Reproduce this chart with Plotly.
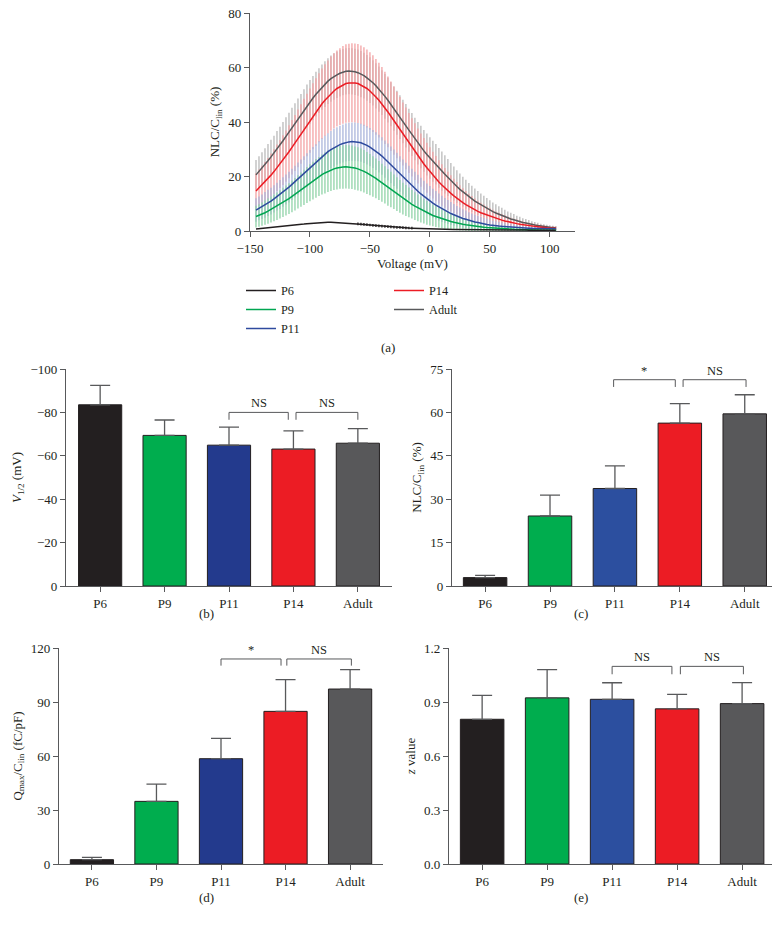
import plotly.graph_objects as go

FONT = 'Liberation Serif'
INK = '#231f20'
AXIS = '#58595b'

# (a) NLC/Clin (%) against voltage, one reading every 2.5 mV
voltage = [
    -145, -142.5, -140, -137.5, -135, -132.5, -130, -127.5, -125, -122.5,
    -120, -117.5, -115, -112.5, -110, -107.5, -105, -102.5, -100, -97.5,
    -95, -92.5, -90, -87.5, -85, -82.5, -80, -77.5, -75, -72.5,
    -70, -67.5, -65, -62.5, -60, -57.5, -55, -52.5, -50, -47.5,
    -45, -42.5, -40, -37.5, -35, -32.5, -30, -27.5, -25, -22.5,
    -20, -17.5, -15, -12.5, -10, -7.5, -5, -2.5, 0, 2.5,
    5, 7.5, 10, 12.5, 15, 17.5, 20, 22.5, 25, 27.5,
    30, 32.5, 35, 37.5, 40, 42.5, 45, 47.5, 50, 52.5,
    55, 57.5, 60, 62.5, 65, 67.5, 70, 72.5, 75, 77.5,
    80, 82.5, 85, 87.5, 90, 92.5, 95, 97.5, 100, 102.5,
    105,
]

nlc_adult = [
    20.6, 21.8, 23.1, 24.4, 25.8, 27.2, 28.6, 30.1, 31.6, 33.1,
    34.7, 36.3, 37.9, 39.5, 41.1, 42.7, 44.3, 45.9, 47.4, 48.8,
    50.2, 51.5, 52.8, 53.9, 55.0, 55.9, 56.7, 57.3, 57.9, 58.3,
    58.6, 58.7, 58.6, 58.4, 58.1, 57.6, 57.0, 56.2, 55.4, 54.4,
    53.3, 52.1, 50.8, 49.4, 48.0, 46.5, 44.9, 43.4, 41.8, 40.2,
    38.6, 37.0, 35.4, 33.8, 32.2, 30.8, 29.4, 28.1, 26.8, 25.6,
    24.5, 23.2, 22.0, 20.8, 19.6, 18.5, 17.4, 16.3, 15.3, 14.4,
    13.5, 12.6, 11.8, 11.0, 10.3, 9.6, 8.9, 8.3, 7.7, 7.1,
    6.6, 6.1, 5.7, 5.2, 4.8, 4.4, 4.1, 3.7, 3.4, 3.1,
    2.9, 2.6, 2.4, 2.2, 2.0, 1.8, 1.7, 1.5, 1.4, 1.3,
    1.2,
]
err_adult = [
    5.5, 5.6, 5.8, 6.0, 6.1, 6.3, 6.4, 6.6, 6.7, 6.9,
    7.0, 7.1, 7.3, 7.4, 7.5, 7.6, 7.7, 7.9, 8.0, 8.1,
    8.2, 8.2, 8.3, 8.4, 8.4, 8.5, 8.5, 8.5, 8.5, 8.5,
    8.5, 8.5, 8.5, 8.5, 8.5, 8.5, 8.4, 8.4, 8.4, 8.3,
    8.3, 8.3, 8.2, 8.2, 8.2, 8.1, 8.1, 8.1, 8.0, 8.0,
    8.0, 7.9, 7.9, 7.8, 7.8, 7.8, 7.7, 7.7, 7.6, 7.5,
    7.4, 7.3, 7.2, 7.0, 6.8, 6.5, 6.3, 6.0, 5.8, 5.5,
    5.3, 5.0, 4.8, 4.6, 4.4, 4.2, 4.0, 3.8, 3.6, 3.4,
    3.2, 3.0, 2.8, 2.6, 2.4, 2.3, 2.1, 1.9, 1.8, 1.6,
    1.5, 1.4, 1.2, 1.1, 1.0, 0.9, 0.8, 0.8, 0.7, 0.6,
    0.6,
]

nlc_p14 = [
    14.7, 15.8, 16.9, 18.0, 19.2, 20.5, 21.8, 23.2, 24.6, 26.0,
    27.5, 29.1, 30.7, 32.3, 34.0, 35.6, 37.3, 38.9, 40.5, 42.1,
    43.7, 45.2, 46.7, 48.0, 49.2, 50.4, 51.4, 52.3, 53.0, 53.6,
    54.1, 54.3, 54.4, 54.3, 54.1, 53.6, 53.0, 52.3, 51.4, 50.4,
    49.2, 48.0, 46.7, 45.2, 43.7, 42.1, 40.5, 38.9, 37.3, 35.6,
    34.0, 32.3, 30.7, 29.1, 27.5, 26.0, 24.6, 23.2, 21.8, 20.5,
    19.2, 18.0, 16.9, 15.8, 14.7, 13.8, 12.9, 12.0, 11.2, 10.4,
    9.7, 9.0, 8.4, 7.8, 7.2, 6.7, 6.3, 5.8, 5.4, 5.0,
    4.6, 4.3, 4.0, 3.7, 3.4, 3.1, 2.9, 2.7, 2.5, 2.3,
    2.1, 1.9, 1.8, 1.7, 1.6, 1.4, 1.3, 1.2, 1.1, 1.0,
    1.0,
]
err_p14 = [
    6.5, 6.75, 7.0, 7.3, 7.6, 7.9, 8.2, 8.5, 8.8, 9.1,
    9.4, 9.7, 10.0, 10.3, 10.6, 10.9, 11.2, 11.5, 11.8, 12.1,
    12.4, 12.65, 12.9, 13.15, 13.4, 13.6, 13.8, 13.95, 14.1, 14.25,
    14.4, 14.45, 14.5, 14.5, 14.5, 14.45, 14.4, 14.3, 14.2, 14.05,
    13.9, 13.7, 13.5, 13.25, 13.0, 12.75, 12.5, 12.2, 11.9, 11.6,
    11.3, 11.0, 10.7, 10.4, 10.1, 9.8, 9.5, 9.2, 8.9, 8.6,
    8.3, 7.95, 7.6, 7.3, 7.0, 6.65, 6.3, 5.95, 5.6, 5.3,
    5.0, 4.7, 4.4, 4.15, 3.9, 3.65, 3.4, 3.2, 3.0, 2.8,
    2.6, 2.4, 2.2, 2.05, 1.9, 1.75, 1.6, 1.5, 1.4, 1.3,
    1.2, 1.1, 1.0, 0.95, 0.9, 0.85, 0.8, 0.75, 0.7, 0.65,
    0.6,
]

nlc_p11 = [
    7.7, 8.3, 8.9, 9.6, 10.3, 11.0, 11.8, 12.6, 13.4, 14.3,
    15.2, 16.1, 17.1, 18.1, 19.2, 20.2, 21.3, 22.3, 23.4, 24.4,
    25.4, 26.4, 27.4, 28.3, 29.1, 29.9, 30.6, 31.2, 31.7, 32.1,
    32.5, 32.7, 32.8, 32.8, 32.6, 32.4, 32.0, 31.4, 30.8, 30.1,
    29.3, 28.4, 27.5, 26.4, 25.3, 24.3, 23.2, 22.1, 20.9, 19.8,
    18.7, 17.6, 16.6, 15.6, 14.6, 13.6, 12.7, 11.8, 11.0, 10.2,
    9.5, 8.8, 8.1, 7.5, 7.0, 6.4, 5.9, 5.4, 5.0, 4.6,
    4.3, 3.9, 3.6, 3.3, 3.1, 2.8, 2.6, 2.4, 2.2, 2.0,
    1.9, 1.8, 1.7, 1.6, 1.5, 1.4, 1.35, 1.3, 1.2, 1.15,
    1.1, 1.05, 1.0, 0.95, 0.9, 0.9, 0.85, 0.85, 0.8, 0.8,
    0.8,
]
err_p11 = [
    4.3, 4.4, 4.5, 4.7, 4.8, 4.9, 5.0, 5.1, 5.3, 5.4,
    5.5, 5.6, 5.7, 5.8, 5.9, 6.0, 6.1, 6.2, 6.3, 6.4,
    6.45, 6.5, 6.6, 6.7, 6.75, 6.8, 6.9, 6.9, 6.95, 7.0,
    7.0, 7.0, 7.0, 7.0, 7.0, 7.0, 7.0, 7.0, 7.0, 7.0,
    6.95, 6.9, 6.9, 6.85, 6.8, 6.75, 6.7, 6.6, 6.5, 6.45,
    6.35, 6.3, 6.2, 6.1, 6.0, 5.9, 5.75, 5.6, 5.5, 5.3,
    5.15, 5.0, 4.8, 4.6, 4.4, 4.2, 4.0, 3.8, 3.6, 3.4,
    3.2, 3.0, 2.85, 2.7, 2.5, 2.35, 2.2, 2.05, 1.9, 1.75,
    1.65, 1.5, 1.4, 1.3, 1.2, 1.1, 1.0, 0.9, 0.85, 0.75,
    0.7, 0.65, 0.6, 0.55, 0.5, 0.5, 0.45, 0.45, 0.4, 0.4,
    0.4,
]

nlc_p9 = [
    5.3, 5.7, 6.2, 6.7, 7.3, 7.9, 8.5, 9.1, 9.8, 10.5,
    11.2, 11.9, 12.7, 13.5, 14.4, 15.2, 16.0, 16.9, 17.7, 18.5,
    19.3, 20.0, 20.7, 21.3, 21.9, 22.4, 22.8, 23.1, 23.4, 23.5,
    23.6, 23.5, 23.4, 23.1, 22.8, 22.4, 21.9, 21.3, 20.7, 20.0,
    19.3, 18.5, 17.7, 16.9, 16.0, 15.2, 14.4, 13.5, 12.7, 11.9,
    11.2, 10.5, 9.8, 9.1, 8.5, 7.9, 7.3, 6.7, 6.2, 5.7,
    5.3, 4.9, 4.5, 4.1, 3.8, 3.5, 3.2, 2.9, 2.7, 2.5,
    2.3, 2.1, 1.9, 1.75, 1.6, 1.5, 1.35, 1.25, 1.15, 1.05,
    1.0, 0.9, 0.85, 0.8, 0.7, 0.65, 0.6, 0.55, 0.5, 0.5,
    0.45, 0.45, 0.4, 0.4, 0.35, 0.35, 0.3, 0.3, 0.3, 0.3,
    0.3,
]
err_p9 = [
    4.0, 4.15, 4.3, 4.45, 4.6, 4.75, 4.9, 5.05, 5.2, 5.35,
    5.5, 5.65, 5.8, 5.95, 6.1, 6.3, 6.45, 6.6, 6.8, 6.95,
    7.1, 7.2, 7.35, 7.5, 7.6, 7.7, 7.75, 7.85, 7.9, 7.95,
    8.0, 8.0, 8.0, 7.95, 7.9, 7.85, 7.8, 7.7, 7.55, 7.45,
    7.3, 7.15, 7.0, 6.85, 6.7, 6.5, 6.35, 6.2, 6.0, 5.8,
    5.65, 5.45, 5.25, 5.1, 4.9, 4.75, 4.55, 4.4, 4.2, 4.0,
    3.85, 3.65, 3.5, 3.3, 3.15, 2.95, 2.8, 2.65, 2.5, 2.35,
    2.2, 2.1, 1.95, 1.85, 1.7, 1.6, 1.5, 1.4, 1.3, 1.2,
    1.15, 1.05, 1.0, 0.9, 0.85, 0.75, 0.7, 0.65, 0.6, 0.55,
    0.5, 0.5, 0.45, 0.45, 0.4, 0.4, 0.35, 0.35, 0.3, 0.3,
    0.3,
]

nlc_p6 = [
    0.7, 0.8, 0.9, 1.0, 1.1, 1.2, 1.3, 1.45, 1.55, 1.7,
    1.8, 1.95, 2.05, 2.2, 2.3, 2.45, 2.55, 2.7, 2.8, 2.9,
    3.0, 3.05, 3.1, 3.15, 3.2, 3.2, 3.15, 3.1, 3.05, 3.0,
    2.95, 2.85, 2.8, 2.7, 2.6, 2.5, 2.4, 2.3, 2.2, 2.1,
    2.0, 1.9, 1.8, 1.7, 1.6, 1.5, 1.45, 1.35, 1.3, 1.2,
    1.15, 1.1, 1.05, 1.0, 0.95, 0.9, 0.85, 0.8, 0.78, 0.75,
    0.72, 0.7, 0.67, 0.65, 0.62, 0.6, 0.58, 0.56, 0.54, 0.52,
    0.5, 0.49, 0.48, 0.46, 0.45, 0.44, 0.43, 0.42, 0.41, 0.4,
    0.39, 0.38, 0.37, 0.37, 0.36, 0.35, 0.35, 0.34, 0.34, 0.33,
    0.33, 0.32, 0.32, 0.31, 0.31, 0.31, 0.3, 0.3, 0.3, 0.3,
    0.3,
]
err_p6 = [
    0, 0, 0, 0, 0, 0, 0, 0, 0, 0,
    0, 0, 0, 0, 0, 0, 0, 0, 0, 0,
    0, 0, 0, 0, 0, 0, 0, 0, 0, 0,
    0, 0, 0, 0, 0.5, 0.5, 0.5, 0.5, 0.5, 0.5,
    0.5, 0.5, 0.5, 0.5, 0.5, 0.5, 0.5, 0.5, 0.5, 0.5,
    0.5, 0.5, 0.5, 0, 0, 0, 0, 0, 0, 0,
    0, 0, 0, 0, 0, 0, 0, 0, 0, 0,
    0, 0, 0, 0, 0, 0, 0, 0, 0, 0,
    0, 0, 0, 0, 0, 0, 0, 0, 0, 0,
    0, 0, 0, 0, 0, 0, 0, 0, 0, 0,
    0,
]

# (b)-(e) group means and upper error bar
groups = ['P6', 'P9', 'P11', 'P14', 'Adult']
v_half = [-83.5, -69.4, -64.9, -63.1, -65.8]
v_half_err = [9.0, 7.1, 8.3, 8.4, 6.7]
nlc_peak = [2.9, 24.2, 33.7, 56.3, 59.5]
nlc_peak_err = [0.8, 7.2, 7.8, 6.7, 6.6]
qmax_clin = [2.4, 34.8, 58.5, 84.8, 97.2]
qmax_clin_err = [1.3, 9.6, 11.3, 17.6, 10.8]
z_value = [0.804, 0.923, 0.915, 0.862, 0.891]
z_value_err = [0.133, 0.157, 0.092, 0.080, 0.117]

colors_dark_blue = ['#231f20', '#00ad4e', '#233a8d', '#ec1c24', '#58585a']
colors_light_blue = ['#231f20', '#00ad4e', '#2c4f9f', '#ec1c24', '#58585a']

# the page body margin is removed below, so the figure fills the whole window
W, H = 782, 929


def px_x(p):
    return p / W


def px_y(p):
    return 1 - p / H


def axis_style(**kw):
    base = dict(
        showline=True, linecolor=AXIS, linewidth=1.2,
        ticks='outside', ticklen=5, tickwidth=1.2, tickcolor=AXIS,
        showgrid=False, zeroline=False,
        tickfont=dict(family=FONT, size=13, color=INK),
    )
    base.update(kw)
    return base


def ytitle(text):
    return dict(text=text, standoff=5, font=dict(family=FONT, size=13, color=INK))


fig = go.Figure()

# panel (a): all error bars first, then the mean lines on top
curves = [
    ('Adult', nlc_adult, err_adult, '#58595b', '#bababa', 5),
    ('P14', nlc_p14, err_p14, '#ec1c24', '#f3a2a4', 4),
    ('P11', nlc_p11, err_p11, '#2e4a9e', '#aab5db', 3),
    ('P9', nlc_p9, err_p9, '#00a651', '#8fd3a7', 2),
    ('P6', nlc_p6, err_p6, '#231f20', '#231f20', 1),
]
for name, y, e, line_c, bar_c, rank in curves:
    fig.add_trace(go.Scatter(
        x=voltage, y=y, mode='markers',
        marker=dict(size=2, color=line_c, opacity=0),
        error_y=dict(type='data', array=e, visible=True, color=bar_c, thickness=1.3, width=0),
        showlegend=False, hoverinfo='skip', xaxis='x', yaxis='y'))
for name, y, e, line_c, bar_c, rank in curves:
    fig.add_trace(go.Scatter(
        x=voltage, y=y, mode='lines', name=name,
        line=dict(color=line_c, width=1.5),
        legend='legend' if rank <= 3 else 'legend2', legendrank=rank,
        xaxis='x', yaxis='y'))


def add_bars(n, values, errors, colors, negative=False):
    zeros = [0] * len(errors)
    err = dict(type='data', symmetric=False, visible=True,
               color=AXIS, thickness=1.3, width=10)
    if negative:
        err.update(array=zeros, arrayminus=errors)
    else:
        err.update(array=errors, arrayminus=zeros)
    fig.add_trace(go.Bar(
        x=groups, y=values, error_y=err, showlegend=False,
        marker=dict(color=colors, line=dict(color=INK, width=1)),
        xaxis=f'x{n}', yaxis=f'y{n}'))


def bracket(n, x0, x1, y_top, y_leg, label):
    fig.add_shape(type='path', xref=f'x{n}', yref=f'y{n}',
                  path=f'M {x0},{y_leg} L {x0},{y_top} L {x1},{y_top} L {x1},{y_leg}',
                  line=dict(color=AXIS, width=1))
    fig.add_annotation(x=(x0 + x1) / 2, y=y_top, xref=f'x{n}', yref=f'y{n}',
                       text=label, showarrow=False, yanchor='bottom',
                       font=dict(family=FONT, size=12.5, color=INK))


add_bars(2, v_half, v_half_err, colors_dark_blue, negative=True)
add_bars(3, nlc_peak, nlc_peak_err, colors_light_blue)
add_bars(4, qmax_clin, qmax_clin_err, colors_dark_blue)
add_bars(5, z_value, z_value_err, colors_light_blue)

bracket(2, 2.0, 2.92, -80, -76.6, 'NS')
bracket(2, 3.04, 4.0, -80, -76.6, 'NS')
bracket(3, 1.98, 2.93, 71.3, 68.8, '*')
bracket(3, 3.05, 4.02, 71.3, 68.8, 'NS')
bracket(4, 2.0, 2.93, 113.9, 110.2, '*')
bracket(4, 3.02, 4.02, 113.9, 110.2, 'NS')
bracket(5, 2.0, 2.92, 1.098, 1.054, 'NS')
bracket(5, 3.05, 4.02, 1.098, 1.054, 'NS')

for label, x, y in [('(a)', 388, 347), ('(b)', 197, 623), ('(c)', 590, 623),
                    ('(d)', 197, 907), ('(e)', 590, 907)]:
    fig.add_annotation(x=px_x(x), y=px_y(y), xref='paper', yref='paper',
                       text=label, showarrow=False,
                       font=dict(family=FONT, size=13, color=INK))

legend_style = dict(
    orientation='v', xanchor='left', yanchor='top',
    font=dict(family=FONT, size=12.3, color=INK),
    bgcolor='rgba(0,0,0,0)', borderwidth=0, tracegroupgap=0,
)

fig.update_layout(
    width=W, height=H,
    margin=dict(l=0, r=0, t=0, b=0),
    template='none',
    paper_bgcolor='white', plot_bgcolor='white',
    font=dict(family=FONT, size=13, color=INK),
    bargap=0.33,
    showlegend=True,
    legend=dict(x=px_x(241), y=px_y(276), **legend_style),
    legend2=dict(x=px_x(389), y=px_y(276), **legend_style),
    xaxis=axis_style(domain=[px_x(250), px_x(575)], range=[-150, 121],
                     tickvals=[-150, -100, -50, 0, 50, 100], anchor='y',
                     title=dict(text='Voltage (mV)', standoff=4,
                                font=dict(family=FONT, size=13, color=INK))),
    yaxis=axis_style(domain=[px_y(231), px_y(13)], range=[0, 80],
                     tickvals=[0, 20, 40, 60, 80], anchor='x',
                     title=ytitle('NLC/C<sub>lin</sub> (%)')),
    xaxis2=axis_style(domain=[px_x(66), px_x(392)], range=[-0.53, 4.53],
                      type='category', anchor='y2'),
    yaxis2=axis_style(domain=[px_y(586), px_y(369)], range=[0, -100],
                      tickvals=[0, -20, -40, -60, -80, -100], anchor='x2',
                      title=ytitle('<i>V</i><sub>1/2</sub> (mV)')),
    xaxis3=axis_style(domain=[px_x(452), px_x(772)], range=[-0.51, 4.42],
                      type='category', anchor='y3'),
    yaxis3=axis_style(domain=[px_y(586), px_y(369)], range=[0, 75],
                      tickvals=[0, 15, 30, 45, 60, 75], anchor='x3',
                      title=ytitle('NLC/C<sub>lin</sub> (%)')),
    xaxis4=axis_style(domain=[px_x(59), px_x(383)], range=[-0.51, 4.51],
                      type='category', anchor='y4'),
    yaxis4=axis_style(domain=[px_y(864), px_y(648)], range=[0, 120],
                      tickvals=[0, 30, 60, 90, 120], anchor='x4',
                      title=ytitle('Q<sub>max</sub>/C<sub>lin</sub> (fC/pF)')),
    xaxis5=axis_style(domain=[px_x(449), px_x(772)], range=[-0.51, 4.46],
                      type='category', anchor='y5'),
    yaxis5=axis_style(domain=[px_y(864), px_y(648)], range=[0, 1.2],
                      tickvals=[0, 0.3, 0.6, 0.9, 1.2], tickformat='.1f', anchor='x5',
                      title=ytitle('<i>z</i> value')),
)

fig.write_html("out.html",
               config={'displayModeBar': False},
               post_script="document.body.style.margin='0';document.body.style.overflow='hidden';")
